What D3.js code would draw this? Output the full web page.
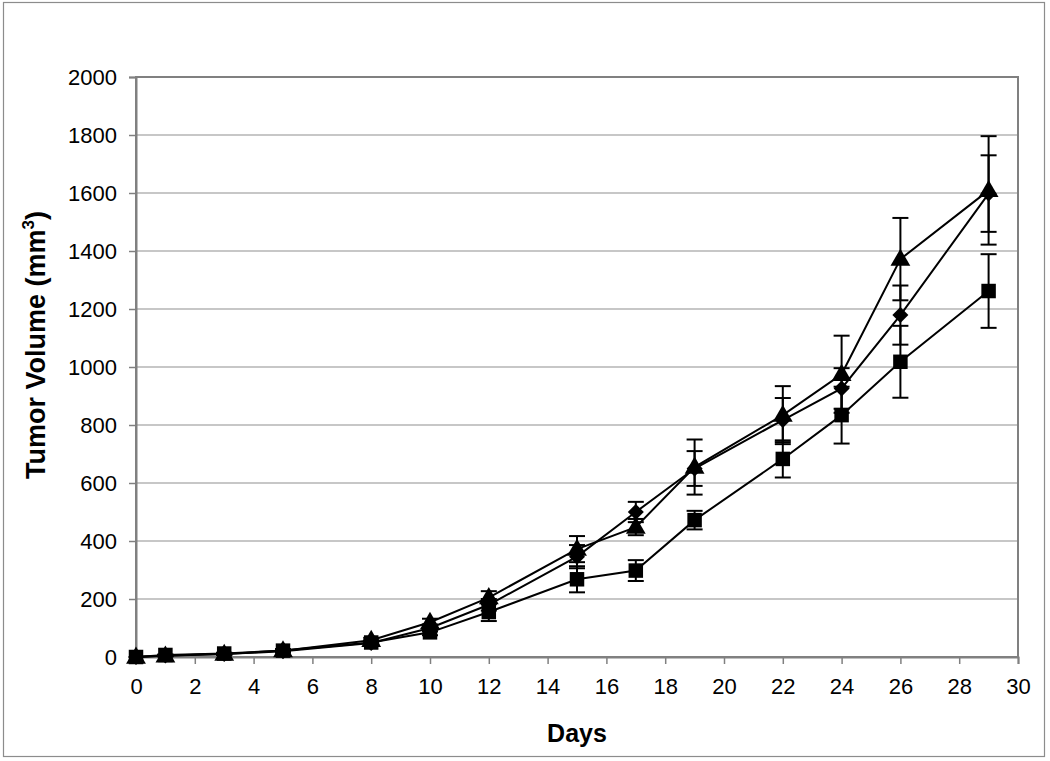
<!DOCTYPE html>
<html>
<head>
<meta charset="utf-8">
<script src="https://cdn.jsdelivr.net/npm/d3@7"></script>
<style>
  html, body { margin: 0; padding: 0; background: #fff; }
  svg { display: block; }
  text { font-family: "Liberation Sans", Arial, sans-serif; fill: #000; }
</style>
</head>
<body>
<svg id="chart" width="1050" height="761"></svg>
<script>
// ---- data ----
const days = [0, 1, 3, 5, 8, 10, 12, 15, 17, 19, 22, 24, 26, 29];
const diamondValues  = [0, 5, 10, 20, 48, 100, 180, 346, 500, 650, 817, 926, 1179, 1598];
const diamondErrors  = [0, 2, 3, 5, 8, 12, 20, 40, 35, 60, 76, 70, 102, 132];
const triangleValues = [0, 4, 10, 22, 58, 120, 205, 372, 448, 655, 834, 975, 1372, 1609];
const triangleErrors = [0, 2, 3, 5, 8, 12, 22, 45, 28, 95, 100, 133, 142, 187];
const squareValues   = [0, 7, 12, 22, 50, 85, 155, 268, 298, 472, 683, 834, 1018, 1262];
const squareErrors   = [0, 2, 3, 5, 8, 10, 31, 45, 36, 32, 64, 98, 124, 127];
const xTicks = [0, 2, 4, 6, 8, 10, 12, 14, 16, 18, 20, 22, 24, 26, 28, 30];
const yTicks = [0, 200, 400, 600, 800, 1000, 1200, 1400, 1600, 1800, 2000];
const xTitle = "Days";
const yTitle = "Tumor Volume (mm";
const yTitleSup = "3";

const series = [
  { name: "triangle", shape: d3.symbolTriangle, size: 170, rot: 0, dy: 1, values: triangleValues, errors: triangleErrors },
  { name: "diamond", shape: d3.symbolSquare, size: 128, rot: 45, dy: 0, values: diamondValues, errors: diamondErrors },
  { name: "square", shape: d3.symbolSquare, size: 210, rot: 0, dy: 0, values: squareValues, errors: squareErrors }
];

// ---- layout ----
const svg = d3.select("#chart");
const plot = { left: 136, right: 1018, top: 77, bottom: 657 };
const x = d3.scaleLinear().domain([0, 30]).range([plot.left, plot.right]);
const y = d3.scaleLinear().domain([0, 2000]).range([plot.bottom, plot.top]);

// outer border
svg.append("rect").attr("x", 3.5).attr("y", 2.5).attr("width", 1041).attr("height", 754)
  .attr("fill", "none").attr("stroke", "#8c8c8c").attr("stroke-width", 1.2);

// gridlines
svg.append("g").selectAll("line").data(yTicks.filter(t => t > 0 && t < 2000)).join("line")
  .attr("x1", plot.left).attr("x2", plot.right)
  .attr("y1", d => y(d)).attr("y2", d => y(d))
  .attr("stroke", "#b4b4b4").attr("stroke-width", 1.6);

// plot frame
svg.append("rect").attr("x", plot.left).attr("y", plot.top)
  .attr("width", plot.right - plot.left).attr("height", plot.bottom - plot.top)
  .attr("fill", "none").attr("stroke", "#808080").attr("stroke-width", 2);

// axes
const xAxis = d3.axisBottom(x).tickValues(xTicks).tickSize(7).tickPadding(14).tickFormat(d3.format("d"));
const gx = svg.append("g").attr("transform", `translate(0,${plot.bottom})`).call(xAxis);
gx.select(".domain").attr("stroke", "#808080").attr("stroke-width", 2);
gx.selectAll(".tick line").attr("stroke", "#808080").attr("stroke-width", 1.5);
gx.selectAll(".tick text").attr("font-size", 22).attr("font-family", "Liberation Sans, Arial, sans-serif").attr("fill", "#000");

const yAxis = d3.axisLeft(y).tickValues(yTicks).tickSize(7).tickPadding(12).tickFormat(d3.format("d"));
const gy = svg.append("g").attr("transform", `translate(${plot.left},0)`).call(yAxis);
gy.select(".domain").attr("stroke", "#808080").attr("stroke-width", 2);
gy.selectAll(".tick line").attr("stroke", "#808080").attr("stroke-width", 1.5);
gy.selectAll(".tick text").attr("font-size", 22).attr("font-family", "Liberation Sans, Arial, sans-serif").attr("fill", "#000");

// titles
svg.append("text").attr("x", (plot.left + plot.right) / 2).attr("y", 742)
  .attr("text-anchor", "middle").attr("font-size", 25).attr("font-weight", "bold").text(xTitle);

const yt = svg.append("text").attr("transform", `translate(45,345) rotate(-90)`)
  .attr("text-anchor", "middle").attr("font-size", 27).attr("font-weight", "bold");
yt.append("tspan").text(yTitle);
yt.append("tspan").attr("font-size", 17).attr("dy", -11).text(yTitleSup);
yt.append("tspan").attr("dy", 11).text(")");

// series
const line = d3.line().x(d => x(d.day)).y(d => y(d.v));
series.forEach(s => {
  const pts = days.map((d, i) => ({ day: d, v: s.values[i], e: s.errors[i] }));
  const g = svg.append("g");
  // error bars
  const eb = g.selectAll("g.err").data(pts.filter(p => p.e > 0)).join("g");
  eb.append("line").attr("x1", p => x(p.day)).attr("x2", p => x(p.day))
    .attr("y1", p => y(p.v - p.e)).attr("y2", p => y(p.v + p.e))
    .attr("stroke", "#000").attr("stroke-width", 2);
  [1, -1].forEach(sign => {
    eb.append("line").attr("x1", p => x(p.day) - 8).attr("x2", p => x(p.day) + 8)
      .attr("y1", p => y(p.v + sign * p.e)).attr("y2", p => y(p.v + sign * p.e))
      .attr("stroke", "#000").attr("stroke-width", 2);
  });
  g.append("path").datum(pts).attr("d", line).attr("fill", "none")
    .attr("stroke", "#000").attr("stroke-width", 2);
  s.pts = pts;
});
series.forEach(s => {
  svg.append("g").selectAll("path").data(s.pts).join("path")
    .attr("transform", p => `translate(${x(p.day)},${y(p.v) + s.dy}) rotate(${s.rot})`)
    .attr("d", d3.symbol().type(s.shape).size(s.size))
    .attr("fill", "#000");
});
</script>
</body>
</html>
